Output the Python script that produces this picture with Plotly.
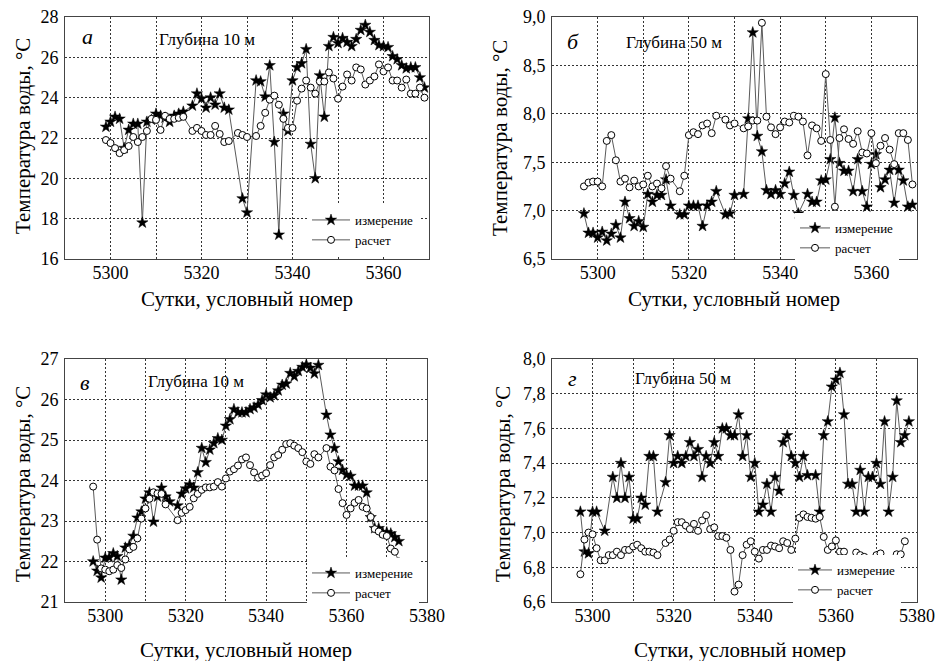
import plotly.graph_objects as go

# ---------------- DATA ----------------
# Panel а (10 m)
a_meas_day = [5299,5300,5301,5302,5303,5304,5305,5306,5307,5308,5309,5310,5311,5312,5313,5314,5315,5316,
              5318,5319,5320,5321,5322,5323,5324,5325,5326,5329,5330,5332,5333,5334,5335,5336,5337,5338,5339,
              5340,5341,5342,5343,5344,5345,5346,5347,5348,5349,5350,5351,5352,5353,5354,5355,5356,5357,5358,
              5359,5360,5361,5362,5363,5364,5365,5366,5367,5368,5369]
a_meas_val = [22.55,22.8,23.05,22.95,21.5,22.4,22.7,22.7,17.8,22.8,22.9,23.2,23.1,23.0,22.8,23.1,23.2,23.3,
              23.6,24.2,23.95,23.5,24.0,23.65,24.2,23.5,23.4,19.0,18.3,24.85,24.8,24.05,25.6,21.8,17.2,23.2,22.35,
              24.85,25.5,25.7,26.4,21.7,20.0,25.1,23.05,26.55,27.0,26.7,26.95,26.75,26.55,26.9,27.35,27.6,27.25,26.85,
              26.6,26.55,26.5,26.05,25.9,25.6,25.45,25.5,25.5,25.0,24.5]
a_calc_day = [5299,5300,5301,5302,5303,5304,5305,5306,5307,5308,5309,5310,5311,5312,5313,5314,5315,5316,
              5318,5319,5320,5321,5322,5323,5324,5325,5326,5328,5329,5330,5332,5333,5334,5335,5336,5337,5338,5339,
              5340,5341,5342,5343,5344,5345,5346,5347,5348,5349,5350,5351,5352,5353,5354,5355,5356,5357,5358,
              5359,5360,5361,5362,5363,5364,5365,5366,5367,5368,5369]
a_calc_val = [21.9,21.75,21.5,21.25,21.4,21.6,22.05,21.8,22.05,22.35,22.95,22.9,22.4,23.1,22.95,22.95,23.0,23.05,
              22.35,22.5,22.35,22.15,22.15,22.6,22.2,21.8,21.85,22.25,22.15,22.05,22.1,22.6,23.25,23.9,24.1,23.65,22.95,22.5,
              22.5,23.85,24.45,24.85,24.5,24.2,24.8,24.8,25.25,24.95,23.95,24.55,25.15,24.85,25.5,25.4,24.65,24.85,25.05,
              25.65,25.3,25.5,24.85,24.85,24.5,24.9,24.2,24.2,24.5,24.0]

# Panel б (50 m)
b_meas_day = [5297,5298,5299,5300,5301,5302,5303,5304,5305,5306,5307,5308,5309,5310,5311,5312,5313,5314,5315,5316,
              5318,5319,5320,5321,5322,5323,5324,5325,5326,5328,5329,5330,5332,5333,5334,5335,5336,5337,5338,5339,
              5340,5341,5342,5343,5344,5346,5347,5348,5349,5350,5351,5352,5353,5354,5355,5356,5357,5358,5359,5360,
              5361,5362,5363,5364,5365,5366,5367,5368,5369]
b_meas_val = [6.97,6.77,6.77,6.72,6.78,6.69,6.76,6.85,6.72,7.09,6.92,6.84,6.89,6.83,7.17,7.09,7.16,7.16,7.32,7.05,
              6.96,6.96,7.05,7.05,7.05,6.84,7.05,7.09,7.20,6.96,6.97,7.16,7.17,7.95,8.84,7.77,7.61,7.21,7.17,7.21,
              7.17,7.28,7.40,7.16,6.97,7.17,7.09,7.09,7.31,7.32,7.53,7.96,7.49,7.41,7.41,7.20,7.53,7.20,7.04,7.48,
              7.58,7.24,7.32,7.42,7.08,7.42,7.31,7.04,7.06]
b_calc_day = [5297,5298,5299,5300,5301,5302,5303,5304,5305,5306,5307,5308,5309,5310,5311,5312,5313,5314,5315,5316,
              5318,5319,5320,5321,5322,5323,5324,5325,5326,5328,5329,5330,5332,5333,5334,5335,5336,5337,5338,5339,
              5340,5341,5342,5343,5344,5345,5346,5347,5348,5349,5350,5351,5352,5353,5354,5355,5356,5357,5358,5359,
              5360,5361,5362,5363,5364,5365,5366,5367,5368,5369]
b_calc_val = [7.25,7.29,7.30,7.30,7.25,7.72,7.78,7.52,7.30,7.33,7.24,7.31,7.25,7.27,7.36,7.25,7.28,7.23,7.46,7.33,
              7.20,7.36,7.78,7.81,7.79,7.88,7.90,7.80,7.98,7.94,7.88,7.90,7.85,7.87,7.93,7.93,8.94,7.97,7.86,7.79,
              7.86,7.92,7.91,7.98,7.97,7.92,7.57,7.88,7.85,7.72,8.41,7.73,7.04,7.75,7.84,7.74,7.69,7.82,7.60,7.59,
              7.80,7.49,7.67,7.75,7.63,7.48,7.80,7.80,7.73,7.27]

# Panel в (10 m)
c_meas_day = [5297,5298,5299,5300,5301,5302,5303,5304,5305,5306,5307,5308,5309,5310,5311,5312,5313,5314,5315,5316,
              5318,5319,5320,5321,5322,5323,5324,5325,5326,5327,5328,5329,5330,5331,5332,5333,5334,5335,5336,5337,
              5338,5339,5340,5341,5342,5343,5344,5345,5346,5347,5348,5349,5350,5351,5352,5353,5355,5356,5357,5358,
              5359,5360,5361,5362,5363,5364,5365,5366,5367,5368,5369,5370,5371,5372,5373]
c_meas_val = [22.0,21.77,21.6,22.09,22.1,22.2,22.13,21.55,22.34,22.4,22.63,23.08,23.23,23.55,23.7,22.98,23.6,23.82,23.6,23.48,
              23.38,23.67,23.8,23.9,23.82,24.2,24.8,24.45,24.76,24.92,25.04,25.0,25.35,25.51,25.76,25.68,25.68,25.68,25.76,25.8,
              25.87,25.98,26.12,26.05,26.1,26.22,26.36,26.39,26.65,26.57,26.7,26.8,26.86,26.78,26.64,26.85,25.62,25.13,24.8,24.47,
              24.26,24.14,24.11,23.87,23.87,23.87,23.7,23.09,22.82,22.82,22.72,22.72,22.69,22.6,22.5]
c_calc_day = [5297,5298,5299,5300,5301,5302,5303,5304,5305,5306,5307,5308,5309,5310,5311,5312,5313,5314,5315,
              5318,5319,5320,5321,5322,5323,5324,5325,5326,5327,5328,5329,5330,5331,5332,5333,5334,5335,5336,5337,
              5338,5339,5340,5341,5342,5343,5344,5345,5346,5347,5348,5349,5350,5351,5352,5353,5355,5356,5357,5358,
              5359,5360,5361,5362,5363,5364,5365,5366,5367,5368,5369,5370,5371,5372,5373]
c_calc_val = [23.85,22.54,21.83,21.8,21.76,21.8,21.91,21.84,22.05,22.3,22.36,22.57,23.06,23.31,23.55,23.71,23.68,23.67,23.41,
              23.02,23.2,23.27,23.35,23.56,23.67,23.77,23.83,23.83,23.85,23.96,23.85,24.05,24.22,24.28,24.37,24.52,24.57,24.38,24.2,
              24.07,24.12,24.18,24.38,24.57,24.63,24.76,24.9,24.92,24.86,24.8,24.7,24.47,24.41,24.65,24.57,24.8,24.34,24.25,23.79,
              23.44,23.15,23.31,23.45,23.52,23.35,23.31,23.1,22.8,22.74,22.66,22.63,22.32,22.24,22.0]

# Panel г (50 m)
d_meas_day = [5297,5298,5299,5300,5301,5303,5305,5306,5307,5308,5309,5310,5311,5312,5313,5314,5315,5316,
              5318,5319,5320,5321,5322,5323,5324,5325,5326,5327,5328,5329,5330,5331,5332,5333,5334,5335,5336,5337,
              5338,5339,5340,5341,5342,5343,5344,5345,5346,5347,5348,5349,5350,5351,5352,5353,5355,5356,5357,5358,
              5359,5360,5361,5362,5363,5364,5365,5366,5367,5368,5369,5370,5371,5372,5373,5374,5375,5376,5377,5378]
d_meas_val = [7.12,6.89,6.88,7.12,7.12,7.01,7.32,7.20,7.40,7.20,7.32,7.08,7.08,7.20,7.16,7.44,7.44,7.12,
              7.29,7.56,7.40,7.44,7.40,7.44,7.52,7.44,7.48,7.32,7.44,7.40,7.52,7.44,7.60,7.60,7.56,7.56,7.68,7.44,
              7.56,7.32,7.40,7.12,7.16,7.28,7.12,7.32,7.24,7.52,7.56,7.44,7.40,7.32,7.44,7.33,7.33,7.12,7.56,7.64,
              7.84,7.88,7.92,7.68,7.28,7.28,7.12,7.36,7.12,7.32,7.32,7.40,7.28,7.64,7.12,7.32,7.76,7.52,7.56,7.64]
d_calc_day = [5297,5298,5299,5300,5301,5302,5303,5304,5305,5306,5307,5308,5309,5310,5311,5312,5313,5314,5315,5316,
              5318,5319,5320,5321,5322,5323,5324,5325,5326,5327,5328,5329,5330,5331,5332,5333,5334,5335,5336,5337,
              5338,5339,5340,5341,5342,5343,5344,5345,5346,5347,5348,5349,5350,5351,5352,5353,5354,5355,5356,5357,
              5358,5359,5360,5361,5362,5363,5364,5365,5366,5367,5368,5369,5370,5371,5372,5373,5374,5375,5376,5377]
d_calc_val = [6.76,6.96,7.00,6.99,6.91,6.84,6.84,6.87,6.87,6.89,6.87,6.90,6.90,6.92,6.93,6.91,6.89,6.89,6.885,6.87,
              6.94,6.96,7.01,7.06,7.06,7.04,7.02,7.05,7.01,7.07,7.10,7.02,7.03,6.98,6.98,6.97,6.90,6.66,6.70,6.87,
              6.93,6.95,6.89,6.85,6.90,6.90,6.925,6.92,6.91,6.95,6.94,6.90,6.965,7.085,7.105,7.09,7.085,7.08,7.09,6.975,
              6.90,6.92,6.955,6.89,6.89,6.82,6.83,6.885,6.87,6.86,6.82,6.83,6.87,6.88,6.80,6.78,6.82,6.875,6.875,6.95]

# Axis ticks
x_ticks_70 = [5290,5300,5310,5320,5330,5340,5350,5360,5370]
x_text_70 = ["", "5300", "", "5320", "", "5340", "", "5360", ""]
x_ticks_80 = [5290,5300,5310,5320,5330,5340,5350,5360,5370,5380]
x_text_80 = ["", "5300", "", "5320", "", "5340", "", "5360", "", "5380"]
ya_ticks = [16,18,20,22,24,26,28]
yb_ticks = [6.5,7.0,7.5,8.0,8.5,9.0]
yb_text = ["6,5","7,0","7,5","8,0","8,5","9,0"]
yc_ticks = [21,22,23,24,25,26,27]
yd_ticks = [6.6,6.8,7.0,7.2,7.4,7.6,7.8,8.0]
yd_text = ["6,6","6,8","7,0","7,2","7,4","7,6","7,8","8,0"]

name_meas = "измерение"
name_calc = "расчет"
panel_letters = ["а", "б", "в", "г"]
depth_labels = ["Глубина 10 м", "Глубина 50 м", "Глубина 10 м", "Глубина 50 м"]
x_title = "Сутки, условный номер"
y_title = "Температура воды, °С"

# ---------------- STYLE ----------------
FONT = "Liberation Serif, Times New Roman, serif"
W, H = 936, 661
LINE_C = "#5a5a5a"

def px_x(p):
    return p / W

def px_y(p):
    return 1 - p / H

domains = {
    1: ([65, 429], [17, 259]),
    2: ([552, 917], [17, 259]),
    3: ([65, 427], [359, 602]),
    4: ([552, 917], [359, 602]),
}

fig = go.Figure()

panels = [
    (1, a_meas_day, a_meas_val, a_calc_day, a_calc_val, "legend"),
    (2, b_meas_day, b_meas_val, b_calc_day, b_calc_val, "legend2"),
    (3, c_meas_day, c_meas_val, c_calc_day, c_calc_val, "legend3"),
    (4, d_meas_day, d_meas_val, d_calc_day, d_calc_val, "legend4"),
]

for idx, md, mv, cd, cv, leg in panels:
    xa = "x" if idx == 1 else f"x{idx}"
    ya = "y" if idx == 1 else f"y{idx}"
    fig.add_trace(go.Scatter(
        x=md, y=mv, mode="lines+markers", name=name_meas, xaxis=xa, yaxis=ya, legend=leg,
        line=dict(color=LINE_C, width=1),
        marker=dict(symbol="star", size=8.5, color="black", line=dict(color="black", width=0.5)),
    ))
    fig.add_trace(go.Scatter(
        x=cd, y=cv, mode="lines+markers", name=name_calc, xaxis=xa, yaxis=ya, legend=leg,
        line=dict(color=LINE_C, width=1),
        marker=dict(symbol="circle", size=7, color="white", line=dict(color="black", width=1)),
    ))

axis_common = dict(
    showline=True, mirror=True, linecolor="#444", linewidth=1,
    showgrid=True, gridcolor="#333", gridwidth=1, griddash="2px,2px",
    zeroline=False, ticks="", automargin=False,
    tickfont=dict(family=FONT, size=18, color="black"),
)

layout = dict(
    template="none",
    width=W, height=H, margin=dict(l=0, r=0, t=0, b=0, pad=0, autoexpand=False),
    paper_bgcolor="white", plot_bgcolor="white",
    font=dict(family=FONT, color="black"),
    showlegend=True,
)

xcfg = {1: (5290, 5370, x_ticks_70, x_text_70), 2: (5290, 5370, x_ticks_70, x_text_70),
        3: (5290, 5380, x_ticks_80, x_text_80), 4: (5290, 5380, x_ticks_80, x_text_80)}
ycfg = {1: (16, 28, ya_ticks, [str(v) for v in ya_ticks]), 2: (6.5, 9.0, yb_ticks, yb_text),
        3: (21, 27, yc_ticks, [str(v) for v in yc_ticks]), 4: (6.6, 8.0, yd_ticks, yd_text)}

for idx in range(1, 5):
    (x0, x1), (y0, y1) = domains[idx]
    xk = "xaxis" if idx == 1 else f"xaxis{idx}"
    yk = "yaxis" if idx == 1 else f"yaxis{idx}"
    xr0, xr1, xtv, xtt = xcfg[idx]
    yr0, yr1, ytv, ytt = ycfg[idx]
    layout[xk] = dict(axis_common, domain=[px_x(x0), px_x(x1)], range=[xr0, xr1],
                      tickvals=xtv, ticktext=xtt, anchor="y" if idx == 1 else f"y{idx}",
                      ticklabelstandoff=-3)
    layout[yk] = dict(axis_common, domain=[px_y(y1), px_y(y0)], range=[yr0, yr1],
                      tickvals=ytv, ticktext=ytt, anchor="x" if idx == 1 else f"x{idx}",
                      ticklabelstandoff=2)

legend_pos = {"legend": (307, 205, 38), "legend2": (795, 213, 30),
              "legend3": (307, 558, 38), "legend4": (793, 555, 34)}
for lk, (lx, ly, iw) in legend_pos.items():
    layout[lk] = dict(x=px_x(lx), y=px_y(ly), xanchor="left", yanchor="top",
                      bgcolor="white", borderwidth=0, itemwidth=iw,
                      font=dict(family=FONT, size=13, color="black"))

fig.update_layout(**layout)

# annotations: panel letters, depth labels, axis titles
letter_pos = [(87, 37), (573, 42), (85, 382), (572, 378)]
depth_pos = [(207, 39), (674, 43), (196, 381), (683, 378)]
xt_pos = [(247, 299), (734, 299), (246, 650), (740, 650)]
yt_pos = [(23, 136), (500, 138), (23, 484), (503, 484)]

def ann(x, y, text, size, angle=0):
    fig.add_annotation(x=px_x(x), y=px_y(y), xref="paper", yref="paper", showarrow=False,
                       xanchor="center", yanchor="middle", textangle=angle,
                       text=text, font=dict(family=FONT, size=size, color="black"))

for i in range(4):
    ann(*letter_pos[i], f"<i>{panel_letters[i]}</i>", 22)
    ann(*depth_pos[i], depth_labels[i], 17)
    ann(*xt_pos[i], x_title, 21)
    ann(*yt_pos[i], y_title, 21, -90)

fig.write_html("out.html")
